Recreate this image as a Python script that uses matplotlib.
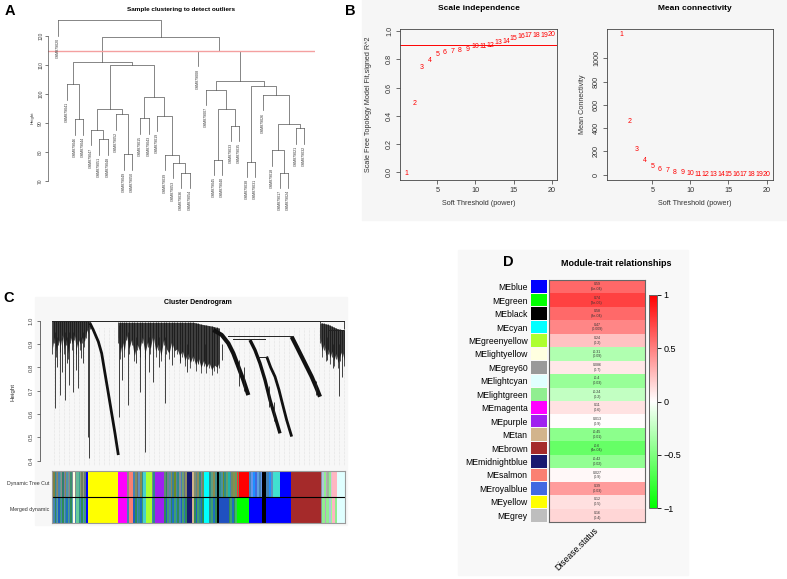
import matplotlib
matplotlib.use("Agg")
import matplotlib.pyplot as plt
import numpy as np
from matplotlib.colors import LinearSegmentedColormap
from matplotlib.patches import Rectangle

# ---------------- panel A: sample clustering (hclust-style merge table) ----------------
SAMPLES = ["GSM879020", "GSM879041", "GSM879046", "GSM879044", "GSM879047", "GSM879051",
           "GSM879048", "GSM879052", "GSM879049", "GSM879050", "GSM879015", "GSM879043",
           "GSM879019", "GSM879039", "GSM879053", "GSM879036", "GSM879054", "GSM879008",
           "GSM879007", "GSM879045", "GSM879040", "GSM879033", "GSM879035", "GSM879038",
           "GSM879031", "GSM879026", "GSM879018", "GSM879017", "GSM879024", "GSM879021",
           "GSM879032"]
# negative = sample (1-based, plot order), positive = earlier merge (1-based)
MERGE_A = [(-16, -17), (-28, -29), (-15, 1), (-24, -25), (-20, -21), (-14, 3), (-9, -10),
           (-27, 2), (-6, -7), (-5, 9), (-30, -31), (-22, -23), (8, 11), (-3, -4), (-11, -12),
           (-13, 6), (-8, 7), (10, 17), (5, 12), (15, 16), (-26, 13), (-19, 19), (4, 21),
           (-2, 14), (22, 23), (18, 20), (24, 26), (-18, 25), (27, 28), (-1, 29)]
HEIGHT_A = [72.9, 72.9, 76.3, 76.7, 77.4, 79.0, 79.2, 80.6, 84.4, 87.6, 88.2, 89.1, 89.7,
            91.3, 91.7, 92.6, 93.0, 94.9, 95.0, 98.9, 99.8, 101.6, 102.9, 103.4, 104.4,
            109.9, 111.0, 114.9, 119.65, 125.5]
CUT_HEIGHT = 115

# ---------------- panel B: soft threshold ----------------
POWERS = list(range(1, 21))
SFT_R2 = [-0.01, 0.485, 0.741, 0.79, 0.835, 0.85, 0.852, 0.861, 0.866, 0.887,
          0.889, 0.90, 0.915, 0.925, 0.944, 0.958, 0.967, 0.967, 0.97, 0.974]
MEAN_K = [1206, 457, 220, 123, 74, 49, 37, 23, 17, 9, 6, 5, 4, 3, 3, 2, 2, 2, 1, 1]
R2_CUT = 0.9

# ---------------- panel C: gene dendrogram (gene order 0..876) ----------------
FUR1_X = [0, 6, 12, 18, 24, 30, 36, 42, 48, 54, 60, 66, 72, 78, 84, 90, 96, 102, 108, 113]
FUR1_TOP = [1.0] * 20
FUR1_BOT = [0.88, 0.93, 0.87, 0.92, 0.89, 0.94, 0.88, 0.92, 0.86, 0.93, 0.90, 0.94, 0.88,
            0.92, 0.90, 0.93, 0.91, 0.95, 0.97, 0.99]
FUR2_X = [198, 204, 210, 216, 222, 230, 238, 246, 254, 262, 270, 278, 286, 294, 302, 310,
          318, 326, 334, 342, 350, 358, 366, 374, 382, 390, 398, 406, 414, 422, 430, 438,
          446, 454, 462, 470, 478, 486, 494, 500]
FUR2_TOP = [0.993] * 30 + [0.991, 0.988, 0.985, 0.983, 0.981, 0.979, 0.977, 0.974, 0.971, 0.968]
FUR2_BOT = [0.93, 0.86, 0.91, 0.87, 0.94, 0.88, 0.92, 0.85, 0.90, 0.87, 0.93, 0.86, 0.91,
            0.88, 0.94, 0.87, 0.90, 0.85, 0.92, 0.88, 0.86, 0.91, 0.87, 0.88, 0.85, 0.87,
            0.83, 0.86, 0.82, 0.85, 0.81, 0.84, 0.80, 0.83, 0.80, 0.82, 0.79, 0.81, 0.80, 0.82]
FUR3_X = [803, 809, 815, 821, 827, 833, 839, 845, 851, 857, 863, 869, 876]
FUR3_TOP = [0.99, 0.99, 0.988, 0.986, 0.984, 0.98, 0.976, 0.972, 0.968, 0.965, 0.963, 0.962, 0.962]
FUR3_BOT = [0.93, 0.87, 0.90, 0.85, 0.88, 0.84, 0.87, 0.83, 0.86, 0.82, 0.85, 0.87, 0.83]
BAND_W1 = ([113, 123, 138, 148, 158, 168, 178, 188, 198],
           [0.989, 0.96, 0.91, 0.86, 0.774, 0.689, 0.603, 0.517, 0.424])
BAND_W2 = ([483, 508, 528, 543, 558, 573, 588],
           [0.96, 0.939, 0.903, 0.86, 0.803, 0.746, 0.681])
BAND_W3A = ([593, 608, 623, 638, 653, 668, 683],
            [0.917, 0.874, 0.817, 0.746, 0.66, 0.589, 0.517])
BAND_W3B = ([643, 655, 668, 680, 690, 703, 718],
            [0.846, 0.80, 0.76, 0.703, 0.646, 0.574, 0.503])
BAND_W5 = ([718, 733, 748, 763, 778, 793, 803],
           [0.931, 0.889, 0.846, 0.803, 0.76, 0.71, 0.674])
C_MERGES = [(0, 876, 1.0), (528, 718, 0.934), (543, 638, 0.92), (618, 643, 0.846),
            (828, 873, 0.96)]
SPIKES = [(8, 0.95, 0.624), (23, 0.95, 0.681), (38, 0.95, 0.66), (51, 0.95, 0.724),
          (63, 0.95, 0.696), (78, 0.95, 0.71), (93, 0.95, 0.817), (106, 0.97, 0.503),
          (111, 0.98, 0.41), (15, 0.93, 0.80), (30, 0.93, 0.78), (45, 0.93, 0.82),
          (70, 0.93, 0.79), (86, 0.93, 0.84), (200, 0.98, 0.589), (208, 0.95, 0.746),
          (226, 0.95, 0.638), (263, 0.95, 0.696), (279, 0.95, 0.439), (303, 0.95, 0.739),
          (338, 0.93, 0.646), (358, 0.93, 0.81), (383, 0.9, 0.82), (403, 0.9, 0.78),
          (438, 0.9, 0.817), (458, 0.9, 0.82), (493, 0.9, 0.817), (508, 0.9, 0.83),
          (320, 0.93, 0.80), (250, 0.93, 0.82), (290, 0.93, 0.78), (560, 0.83, 0.72),
          (575, 0.8, 0.70), (650, 0.72, 0.63), (665, 0.65, 0.57), (790, 0.74, 0.68),
          (823, 0.93, 0.83), (843, 0.9, 0.796), (860, 0.9, 0.677), (868, 0.9, 0.76),
          (876, 1.0, 0.963), (803, 1.0, 0.989)]

DYN_START = [0, 4, 8, 11, 15, 19, 23, 27, 31, 35, 39, 43, 47, 51, 55, 59, 63, 69, 73, 80, 83,
             88, 92, 96, 101, 108, 198, 225, 230, 243, 249, 254, 258, 263, 268, 273, 281, 298,
             303, 308, 335, 340, 345, 350, 355, 360, 365, 370, 375, 380, 385, 390, 395, 398,
             403, 418, 425, 430, 435, 440, 445, 449, 453, 468, 474, 480, 486, 493, 498, 505,
             510, 515, 520, 526, 531, 536, 541, 548, 552, 555, 558, 588, 594, 600, 606, 612,
             618, 624, 628, 640, 648, 654, 660, 683, 715, 803, 808, 813, 818, 823, 828, 833,
             838, 853]
DYN_COLOR = ["#607d8b", "#808040", "#2e8b8b", "#708090", "#8b8b5a", "#4682b4", "#5f9f8f",
             "#8c8c8c", "#2f7f6f", "#7b7ba8", "#8b8b4f", "#4f8fb0", "#6aa08a", "#907f8f",
             "#3f8f6f", "#7f8fa0", "#ffffe0", "#8a8a8a", "#66bb99", "#3f9f8f", "#8a9a7a",
             "#6f7f5f", "#9a9a8a", "#5f7f6f", "#0000ff", "#ffff00", "#ff00ff", "#8a8a8a",
             "#fa8072", "#4682b4", "#7f8f5f", "#6f6f6f", "#5f8fbf", "#8b8b4f", "#2f8f8f",
             "#48d1cc", "#adff2f", "#7a8a8a", "#2e8b8b", "#a020f0", "#5f8f6f", "#2e8b57",
             "#708090", "#4f8f9f", "#8b8b4f", "#3f7f8f", "#6b8e23", "#5f7f9f", "#2e8b8b",
             "#8c8c8c", "#4682b4", "#6f9f6f", "#5f6f8f", "#8f8f5f", "#191970", "#d2b48c",
             "#7f8f6f", "#5f7f8f", "#8b8b5a", "#2f8f7f", "#7f7f9f", "#6f8f5f", "#00ffff",
             "#2e8b8b", "#5f9f7f", "#8b8b4f", "#3f8f8f", "#000000", "#2f8f8f", "#4f8f9f",
             "#6b8e23", "#2e8b8b", "#5f9f6f", "#20b2aa", "#4682b4", "#6f8f5f", "#8b8b4f",
             "#5f9f5f", "#ff3030", "#708050", "#ff0000", "#4682b4", "#6495ed", "#1e90ff",
             "#4169e1", "#5f9fdf", "#4682b4", "#6495ed", "#000000", "#4682b4", "#1e90ff",
             "#5f8fbf", "#40e0d0", "#0000ff", "#a52a2a", "#8a8aa0", "#b0c4de", "#90ee90",
             "#c0a0c0", "#9ab89a", "#90ee90", "#d8bfd8", "#ffb6c1", "#e0ffff"]
MRG_START = [0, 4, 8, 11, 15, 19, 23, 27, 31, 35, 39, 43, 47, 51, 55, 59, 63, 69, 73, 80, 83,
             88, 92, 96, 101, 108, 198, 225, 230, 243, 249, 254, 258, 263, 268, 273, 281, 298,
             303, 308, 335, 340, 345, 350, 355, 360, 365, 370, 375, 380, 385, 390, 395, 398,
             403, 418, 425, 430, 435, 440, 445, 449, 453, 468, 474, 480, 486, 493, 498, 528,
             533, 538, 543, 548, 553, 588, 628, 640, 715, 803, 808, 815, 820, 828, 833, 838,
             845, 853]
MRG_COLOR = ["#2e8b8b", "#4682b4", "#2e8b57", "#3a7fc0", "#5f9f8f", "#1f5fbf", "#3f9f6f",
             "#4682b4", "#2e8b57", "#5f8fbf", "#2f8f8f", "#1e6fbf", "#4fa07f", "#3f7fbf",
             "#2e8b57", "#5f9fbf", "#ffffe0", "#4682b4", "#66cc99", "#2e8b8b", "#3f7fbf",
             "#2e8b57", "#4f8fbf", "#3f9f6f", "#0000ff", "#ffff00", "#ff00ff", "#4682b4",
             "#fa8072", "#1e5fbf", "#2e8b57", "#3f7fbf", "#2f8f8f", "#1f6fbf", "#3f9f6f",
             "#48d1cc", "#adff2f", "#4682b4", "#2e8b8b", "#a020f0", "#2e8b57", "#1f5fbf",
             "#3f9f6f", "#4682b4", "#2e8b57", "#1e6fbf", "#3f9f6f", "#2f7fbf", "#2e8b57",
             "#4682b4", "#1f5fbf", "#3f9f6f", "#2f6fbf", "#2e8b57", "#191970", "#d2b48c",
             "#2e8b57", "#1f5fbf", "#3f9f6f", "#2e8b8b", "#1e6fbf", "#2e8b57", "#00ffff",
             "#2e8b8b", "#3f9f6f", "#1f6fbf", "#2e8b57", "#000000", "#1f50c0", "#2e8b57",
             "#3f9f6f", "#1e6fbf", "#2e8b57", "#3fbf5f", "#00ff00", "#0000ff", "#000000",
             "#0000ff", "#a52a2a", "#8a8aa0", "#90ee90", "#c0a0c0", "#90ee90", "#b0c4de",
             "#98fb98", "#ffb6c1", "#90ee90", "#e0ffff"]
GENE_END = 876

# ---------------- panel D: module-trait relationships ----------------
MODULES = ["MEblue", "MEgreen", "MEblack", "MEcyan", "MEgreenyellow", "MElightyellow",
           "MEgrey60", "MElightcyan", "MElightgreen", "MEmagenta", "MEpurple", "MEtan",
           "MEbrown", "MEmidnightblue", "MEsalmon", "MEroyalblue", "MEyellow", "MEgrey"]
MODULE_COLORS = ["#0000ff", "#00ff00", "#000000", "#00ffff", "#adff2f", "#ffffe0", "#999999",
                 "#e0ffff", "#90ee90", "#ff00ff", "#a020f0", "#d2b48c", "#a52a2a", "#191970",
                 "#fa8072", "#4169e1", "#ffff00", "#bebebe"]
COR = [0.59, 0.74, 0.58, 0.47, 0.24, -0.31, 0.086, -0.4, -0.24, 0.11, 0.013, -0.45, -0.6,
       -0.42, 0.027, 0.39, 0.12, 0.16]
PVAL = ["5e-04", "2e-06", "8e-04", "0.009", "0.2", "0.09", "0.7", "0.03", "0.2", "0.6", "0.9",
        "0.01", "4e-04", "0.02", "0.9", "0.03", "0.5", "0.4"]
TRAIT = "Disease.status"

# ---------------- layout helpers (pixel boxes) ----------------
W, H = 787, 579
plt.rcParams.update({"font.family": ["Liberation Sans", "DejaVu Sans"], "font.size": 6,
                     "axes.linewidth": 0.6})
fig = plt.figure(figsize=(W / 100, H / 100), dpi=100)


def axes_px(x0, y0, x1, y1):
    return fig.add_axes([x0 / W, 1 - y1 / H, (x1 - x0) / W, (y1 - y0) / H])


def text_px(x, y, s, **kw):
    fig.text(x / W, 1 - y / H, s, ha=kw.pop("ha", "center"), va=kw.pop("va", "center"), **kw)


def bg_px(x0, y0, x1, y1, color):
    fig.patches.append(Rectangle((x0 / W, 1 - y1 / H), (x1 - x0) / W, (y1 - y0) / H,
                                 transform=fig.transFigure, color=color, zorder=-10))


bg_px(362, 0, 787, 220, "#f6f6f6")
bg_px(35, 297, 347, 525, "#f7f7f7")
bg_px(458, 250, 688, 575, "#f8f8f8")

AXC = "#444444"

# ---------------- A ----------------
axA = axes_px(48, 16, 315, 193)
axA.patch.set_alpha(0)
HANG = 5.3
pos = {}


def child_xy(c, parent_h):
    if c < 0:
        i = -c - 1
        axA.plot([i, i], [parent_h, parent_h - HANG], color="#555555", lw=0.5)
        axA.text(i, parent_h - HANG - 0.8, SAMPLES[i], rotation=90, ha="center", va="top",
                 fontsize=2.6, color="#333333", clip_on=False)
        return i, parent_h
    return pos[c]


for k, ((a, b), h) in enumerate(zip(MERGE_A, HEIGHT_A), start=1):
    xa, ya = child_xy(a, h)
    xb, yb = child_xy(b, h)
    axA.plot([xa, xa, xb, xb], [ya, h, h, yb], color="#555555", lw=0.5)
    pos[k] = ((xa + xb) / 2, h)

axA.axhline(CUT_HEIGHT, color="#f4a0a0", lw=1.0)
axA.set_xlim(-1.256, 31.3)
axA.set_ylim(65.85, 127.0)
for s in ["top", "right", "bottom"]:
    axA.spines[s].set_visible(False)
axA.spines["left"].set_bounds(70, 120)
axA.spines["left"].set_color("#555555")
axA.spines["left"].set_linewidth(0.5)
axA.set_xticks([])
axA.set_yticks([70, 80, 90, 100, 110, 120])
axA.tick_params(axis="y", labelsize=3.6, length=2, width=0.5, pad=1.5, colors="#444444")
for t in axA.get_yticklabels():
    t.set_rotation(90)
    t.set_va("center")
text_px(33, 118, "Height", rotation=90, fontsize=3.2, color="#333333")
text_px(181, 9, "Sample clustering to detect outliers", fontsize=4.6, fontweight="bold")

# ---------------- B ----------------
axB1 = axes_px(400, 29, 557, 180)
axB2 = axes_px(607, 29, 773, 180)
for p, r in zip(POWERS, SFT_R2):
    axB1.text(p, r, str(p), color="red", fontsize=5, ha="center", va="center")
for p, k in zip(POWERS, MEAN_K):
    axB2.text(p, k, str(p), color="red", fontsize=5, ha="center", va="center")
axB1.axhline(R2_CUT, color="red", lw=0.7)
axB1.set_xlim(0.12, 20.7)
axB1.set_ylim(-0.054, 1.014)
axB1.set_yticks([0, 0.2, 0.4, 0.6, 0.8, 1.0])
axB1.set_yticklabels(["0.0", "0.2", "0.4", "0.6", "0.8", "1.0"])
axB2.set_xlim(-0.94, 20.84)
axB2.set_ylim(-45.5, 1252)
axB2.set_yticks([0, 200, 400, 600, 800, 1000])
for ax in (axB1, axB2):
    ax.patch.set_alpha(0)
    ax.set_xticks([5, 10, 15, 20])
    ax.tick_params(labelsize=5.2, length=3, width=0.5, pad=2, colors="#333333")
    for s in ax.spines.values():
        s.set_color(AXC)
        s.set_linewidth(0.6)
    for t in ax.get_yticklabels():
        t.set_rotation(90)
        t.set_va("center")
text_px(479, 9, "Scale independence", fontsize=6, fontweight="bold")
text_px(695, 9, "Mean connectivity", fontsize=6, fontweight="bold")
text_px(479, 204, "Soft Threshold (power)", fontsize=5.2, color="#333333")
text_px(695, 204, "Soft Threshold (power)", fontsize=5.2, color="#333333")
text_px(368, 104, "Scale Free Topology Model Fit,signed R^2", rotation=90, fontsize=5.2,
        color="#333333")
text_px(583, 104, "Mean Connectivity", rotation=90, fontsize=5.2, color="#333333")

# ---------------- C ----------------
axC = axes_px(40, 316, 345, 466)
axC.patch.set_alpha(0)
axC.vlines(np.arange(5, GENE_END, 15), 0.377, 0.97, colors="#cfcfcf", lw=0.4,
           linestyles=(0, (1, 1.5)), zorder=0)
for fx, ft, fb in [(FUR1_X, FUR1_TOP, FUR1_BOT), (FUR2_X, FUR2_TOP, FUR2_BOT),
                   (FUR3_X, FUR3_TOP, FUR3_BOT)]:
    axC.fill_between(fx, fb, ft, color="#2a2a2a", alpha=0.9, lw=0)
    axC.vlines(fx, np.array(fb) - 0.025, ft, colors="#111111", lw=0.5)
for (bx, bh), lw in [(BAND_W1, 2.0), (BAND_W2, 3.0), (BAND_W3A, 2.4), (BAND_W3B, 2.0),
                     (BAND_W5, 3.0)]:
    axC.plot(bx, bh, color="#111111", lw=lw, solid_capstyle="butt")
for x0, x1, h in C_MERGES:
    axC.plot([x0, x1], [h, h], color="#222222", lw=0.7)
sx, st, sb = zip(*SPIKES)
axC.vlines(sx, sb, st, colors="#222222", lw=0.6)
axC.set_xlim(-37, 878)
axC.set_ylim(0.377, 1.02)
for s in ["top", "right", "bottom"]:
    axC.spines[s].set_visible(False)
axC.spines["left"].set_bounds(0.4, 1.0)
axC.spines["left"].set_color("#555555")
axC.set_xticks([])
axC.set_yticks([0.4, 0.5, 0.6, 0.7, 0.8, 0.9, 1.0])
axC.tick_params(axis="y", labelsize=4.3, length=2.5, width=0.5, pad=2, colors="#444444")
for t in axC.get_yticklabels():
    t.set_rotation(90)
    t.set_va("center")
text_px(13, 392, "Height", rotation=90, fontsize=4.5, color="#333333")
text_px(198, 303, "Cluster Dendrogram", fontsize=5, fontweight="bold")

axCb = axes_px(52, 471, 345, 523)
for row, (st_, col) in enumerate([(DYN_START, DYN_COLOR), (MRG_START, MRG_COLOR)]):
    widths = np.diff(st_ + [GENE_END])
    axCb.barh(row, widths, left=st_, height=1, color=col, align="edge", lw=0)
axCb.axhline(1, color="black", lw=0.8)
axCb.set_xlim(0, GENE_END)
axCb.set_ylim(2, 0)
axCb.set_xticks([])
axCb.set_yticks([])
for s in axCb.spines.values():
    s.set_color("#9a9a9a")
    s.set_linewidth(0.8)
text_px(49, 484, "Dynamic Tree Cut", ha="right", fontsize=3.8, color="#333333")
text_px(49, 509, "Merged dynamic", ha="right", fontsize=3.8, color="#333333")

# ---------------- D ----------------
gwr = LinearSegmentedColormap.from_list("gwr", ["#00ff00", "#ffffff", "#ff0000"])
n = len(MODULES)
axDc = axes_px(531, 280, 547, 522)
axDc.barh(np.arange(n) + 0.5, 1, height=0.94, color=MODULE_COLORS)
axDc.set_xlim(0, 1)
axDc.set_ylim(n, 0)
axDc.set_xticks([])
axDc.set_yticks(np.arange(n) + 0.5)
axDc.set_yticklabels(MODULES, fontsize=6.2)
axDc.tick_params(axis="y", length=0, pad=2.5)
for s in axDc.spines.values():
    s.set_visible(False)
axDc.patch.set_alpha(0)

axD = axes_px(549, 280, 645, 522)
im = axD.imshow(np.array(COR)[:, None], cmap=gwr, vmin=-1, vmax=1, aspect="auto",
                extent=(-0.5, 0.5, n - 0.5, -0.5))
for i, (c, p) in enumerate(zip(COR, PVAL)):
    axD.text(0, i, f"{c:g}\n({p})", ha="center", va="center", fontsize=2.6,
             color="#333333", linespacing=1.25)
axD.set_xticks([])
axD.set_yticks([])
for s in axD.spines.values():
    s.set_color("#666666")
    s.set_linewidth(0.8)

axK = axes_px(649, 295, 657, 508)
cb = fig.colorbar(im, cax=axK, ticks=[-1, -0.5, 0, 0.5, 1])
cb.ax.set_yticklabels(["\u22121", "\u22120.5", "0", "0.5", "1"])
cb.ax.tick_params(labelsize=6.5, length=3, width=0.6, pad=1.5)
cb.outline.set_edgecolor("#666666")
cb.outline.set_linewidth(0.7)

text_px(577, 549, TRAIT, rotation=45, fontsize=6.2)
text_px(616, 263, "Module-trait relationships", fontsize=6.5, fontweight="bold")

# ---------------- panel letters ----------------
for lab, x, y in [("A", 10, 11), ("B", 350, 11), ("C", 9, 298), ("D", 508, 262)]:
    text_px(x, y, lab, fontsize=10.5, fontweight="bold")

fig.savefig("out.png", dpi=100)
